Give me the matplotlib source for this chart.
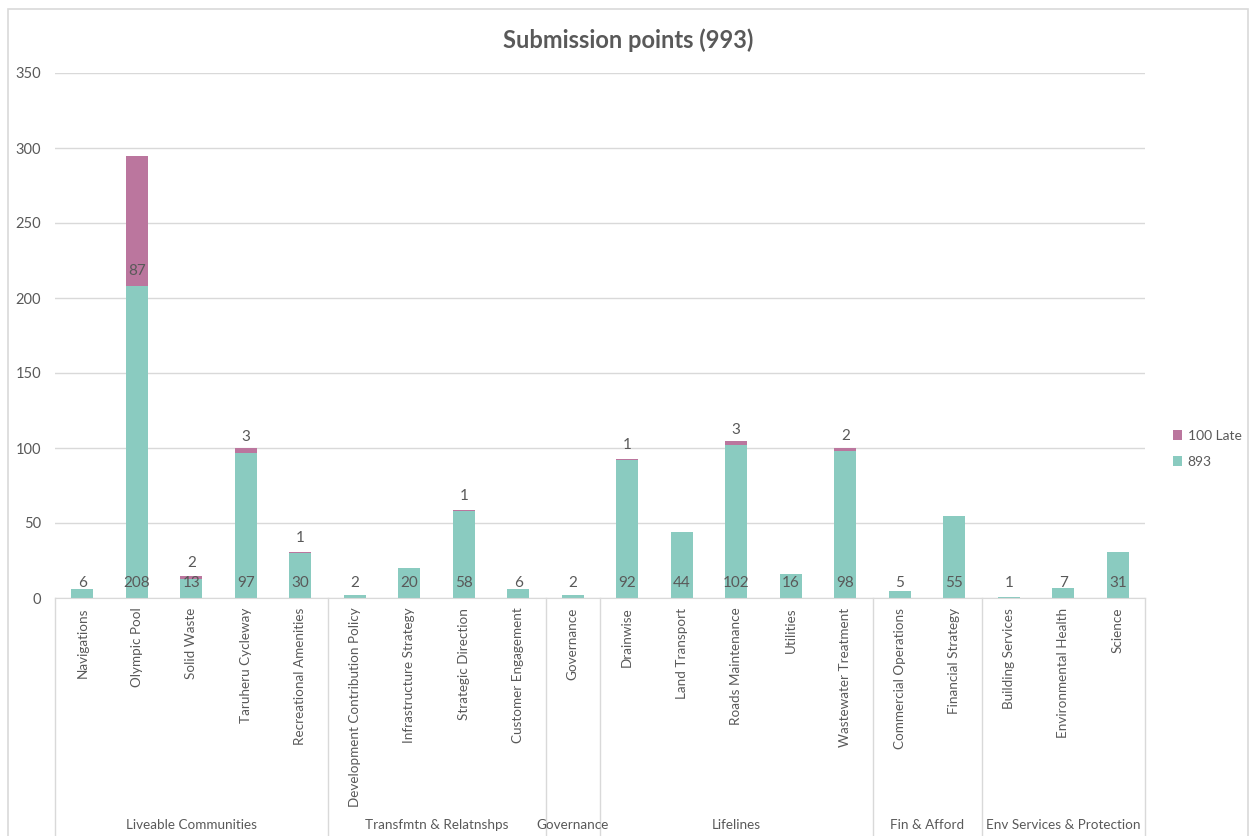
# Submission points chart - stacked bars grouped by theme
import matplotlib.pyplot as plt
import matplotlib.transforms as mtransforms
from matplotlib.patches import Rectangle

# data
categories = ['Navigations', 'Olympic Pool', 'Solid Waste', 'Taruheru Cycleway',
              'Recreational Amenities', 'Development Contribution Policy',
              'Infrastructure Strategy', 'Strategic Direction', 'Customer Engagement',
              'Governance', 'Drainwise', 'Land Transport', 'Roads Maintenance',
              'Utilities', 'Wastewater Treatment', 'Commercial Operations',
              'Financial Strategy', 'Building Services', 'Environmental Health', 'Science']
on_time = [6, 208, 13, 97, 30, 2, 20, 58, 6, 2, 92, 44, 102, 16, 98, 5, 55, 1, 7, 31]
late = [0, 87, 2, 3, 1, 0, 0, 1, 0, 0, 1, 0, 3, 0, 2, 0, 0, 0, 0, 0]
group_names = ['Liveable Communities', 'Transfmtn & Relatnshps', 'Governance',
               'Lifelines', 'Fin & Afford', 'Env Services & Protection']
group_sizes = [5, 4, 1, 5, 2, 3]

teal = '#8ACBC0'
pink = '#BB769E'
grey_txt = '#595959'
grid_col = '#D9D9D9'

plt.rcParams['font.family'] = ['Lato', 'DejaVu Sans']

fig = plt.figure(figsize=(12.52, 8.36), dpi=100)
ax = fig.add_axes([55 / 1252, 1 - 598 / 836, 1090 / 1252, 525 / 836])

x = list(range(len(categories)))
ax.bar(x, on_time, width=0.4, color=teal, label='893', zorder=2)
ax.bar(x, late, width=0.4, bottom=on_time, color=pink, label='100 Late', zorder=2)

# data labels at the base of each segment
for i in x:
    ax.annotate(str(on_time[i]), (i, 0), xytext=(0, 11), textcoords='offset points',
                ha='center', va='center', fontsize=11, color=grey_txt, zorder=3)
    if late[i] > 0:
        ax.annotate(str(late[i]), (i, on_time[i]), xytext=(0, 11), textcoords='offset points',
                    ha='center', va='center', fontsize=11, color=grey_txt, zorder=3)

ax.set_xlim(-0.5, len(categories) - 0.5)
ax.set_ylim(0, 350)
ax.set_yticks(range(0, 351, 50))
ax.grid(axis='y', color=grid_col, linewidth=1, zorder=0)
ax.set_axisbelow(True)
for s in ['top', 'right', 'left']:
    ax.spines[s].set_visible(False)
ax.spines['bottom'].set_color(grid_col)
ax.tick_params(axis='y', length=0, pad=10, labelsize=10.5, labelcolor=grey_txt)
ax.set_xticks(x)
ax.set_xticklabels(categories, rotation=90, va='top', ha='center')
ax.tick_params(axis='x', length=0, pad=7, labelsize=9.7, labelcolor=grey_txt)

# group separators and group labels
trans = mtransforms.blended_transform_factory(ax.transData, ax.transAxes)
y_low = -(836 - 598) / 525
bounds = [-0.5]
for n in group_sizes:
    bounds.append(bounds[-1] + n)
for b in bounds:
    ax.plot([b, b], [0, y_low], transform=trans, color=grid_col, linewidth=1, clip_on=False)
for k, name in enumerate(group_names):
    mid = (bounds[k] + bounds[k + 1]) / 2
    ax.text(mid, -(825 - 598) / 525, name, transform=trans, ha='center', va='center',
            fontsize=9.7, color=grey_txt)

fig.text(628 / 1252, 1 - 40 / 836, 'Submission points (993)', ha='center', va='center',
         fontsize=17, fontweight='bold', color=grey_txt)

handles, labels = ax.get_legend_handles_labels()
leg = fig.legend(handles[::-1], labels[::-1], loc='center left',
                 bbox_to_anchor=(1160 / 1252, 1 - 449 / 836), frameon=False,
                 fontsize=10, handlelength=0.7, handleheight=0.7, handletextpad=0.4,
                 labelspacing=1.0)
for t in leg.get_texts():
    t.set_color(grey_txt)

# outer chart frame
fig.patches.append(Rectangle((8 / 1252, -0.02), 1240 / 1252, 1 - 9 / 836 + 0.02,
                             transform=fig.transFigure, fill=False,
                             edgecolor=grid_col, linewidth=1.2))

fig.savefig('out.png', dpi=100)
